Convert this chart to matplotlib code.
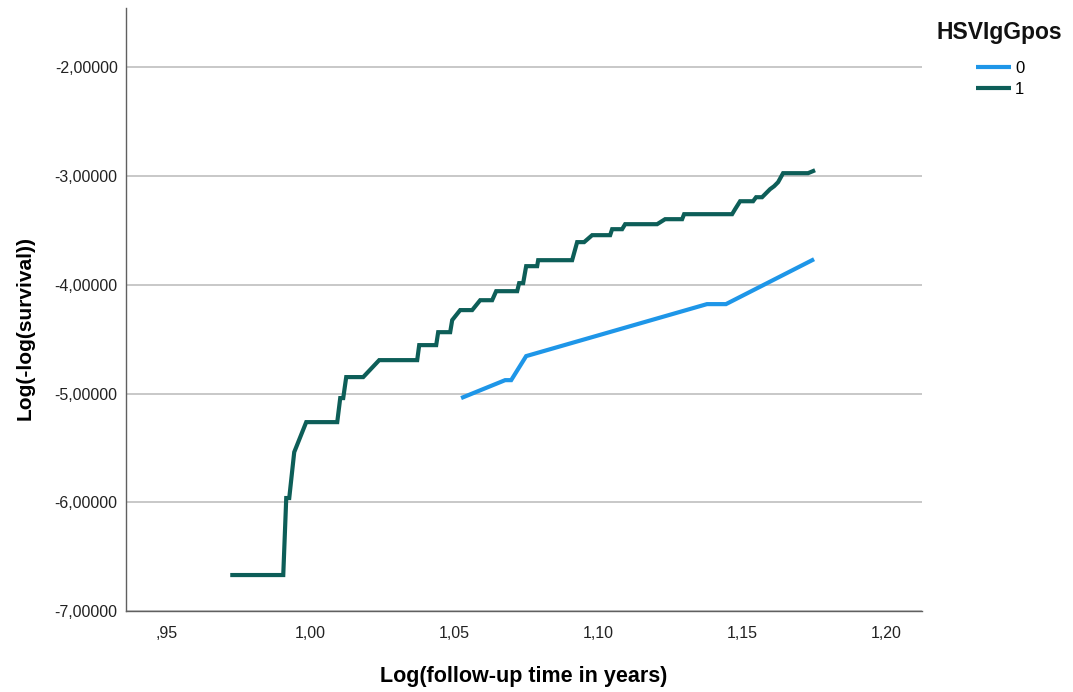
import matplotlib.pyplot as plt
from matplotlib.ticker import FuncFormatter

plt.rcParams['font.family'] = ['Liberation Sans', 'DejaVu Sans']

# HSVIgGpos = 0
log_time_0 = [1.0524, 1.0677, 1.0698, 1.0750, 1.1378, 1.1444, 1.1750]
loglog_surv_0 = [-5.042, -4.877, -4.877, -4.656, -4.178, -4.178, -3.765]

# HSVIgGpos = 1
log_time_1 = [0.97222, 0.99063, 0.99167, 0.99271, 0.99444, 0.99861, 1.00938,
              1.01042, 1.01146, 1.01250, 1.01840, 1.02396, 1.03715, 1.03785,
              1.04375, 1.04444, 1.04861, 1.04931, 1.05208, 1.05625, 1.05903,
              1.06319, 1.06458, 1.07188, 1.07257, 1.07396, 1.07500, 1.07882,
              1.07917, 1.09097, 1.09271, 1.09514, 1.09792, 1.10417, 1.10486,
              1.10833, 1.10938, 1.12049, 1.12326, 1.12917, 1.12986, 1.14653,
              1.14757, 1.14931, 1.15382, 1.15486, 1.15694, 1.15833, 1.15972,
              1.16111, 1.16250, 1.16424, 1.17292, 1.17535]
loglog_surv_1 = [-6.669, -6.669, -5.961, -5.961, -5.539, -5.263, -5.263,
                 -5.042, -5.042, -4.849, -4.849, -4.693, -4.693, -4.555,
                 -4.555, -4.436, -4.436, -4.325, -4.233, -4.233, -4.142,
                 -4.142, -4.059, -4.059, -3.985, -3.985, -3.829, -3.829,
                 -3.774, -3.774, -3.608, -3.608, -3.544, -3.544, -3.489,
                 -3.489, -3.443, -3.443, -3.397, -3.397, -3.351, -3.351,
                 -3.305, -3.232, -3.232, -3.195, -3.195, -3.158, -3.121,
                 -3.094, -3.057, -2.974, -2.974, -2.947]

x_ticks = [0.95, 1.00, 1.05, 1.10, 1.15, 1.20]
y_ticks = [-7, -6, -5, -4, -3, -2]

BLUE = '#1E96E8'
GREEN = '#0D5E58'

fig = plt.figure(figsize=(10.73, 6.92), dpi=100)
ax = fig.add_axes([0.1174, 0.117, 0.7419, 0.871])

ax.plot(log_time_0, loglog_surv_0, color=BLUE, lw=3, label='0',
        solid_capstyle='butt', solid_joinstyle='miter')
ax.plot(log_time_1, loglog_surv_1, color=GREEN, lw=3, label='1',
        solid_capstyle='butt', solid_joinstyle='miter')

ax.set_xlim(0.936, 1.2125)
ax.set_ylim(-7.0, -1.458)
ax.set_xticks(x_ticks)
ax.set_yticks(y_ticks)


def comma_fmt(v, decimals):
    s = f'{v:.{decimals}f}'.replace('.', ',')
    if s.startswith('0,'):
        s = s[1:]
    return s


ax.xaxis.set_major_formatter(FuncFormatter(lambda v, p: comma_fmt(v, 2)))
ax.yaxis.set_major_formatter(FuncFormatter(lambda v, p: comma_fmt(v, 5)))
ax.tick_params(length=0, labelsize=11.5, colors='#222222')
ax.tick_params(axis='y', pad=6)
ax.tick_params(axis='x', pad=11)

ax.grid(axis='y', color='#c8c8c8', lw=1.4)
ax.set_axisbelow(True)
for side in ('top', 'right'):
    ax.spines[side].set_visible(False)
for side in ('left', 'bottom'):
    ax.spines[side].set_color('#606060')
    ax.spines[side].set_linewidth(1.0)

ax.set_xlabel('Log(follow-up time in years)', fontsize=15.5, fontweight='bold')
ax.xaxis.set_label_coords(0.5, -0.091)
ax.set_ylabel('Log(-log(survival))', fontsize=15, fontweight='bold')
ax.yaxis.set_label_coords(-0.115, 0.47)

# legend: bold title on its own, entries indented below it
fig.text(937 / 1073, 1 - 32 / 692, 'HSVIgGpos', fontsize=16.5,
         fontweight='bold', va='center', ha='left', color='#111111')
fig.legend(loc='upper left', bbox_to_anchor=(976 / 1073, 1 - 61 / 692),
           frameon=False, fontsize=12, handlelength=2.1, handletextpad=0.25,
           labelspacing=0.37, borderpad=0, borderaxespad=0)

fig.savefig('out.png', dpi=100)
